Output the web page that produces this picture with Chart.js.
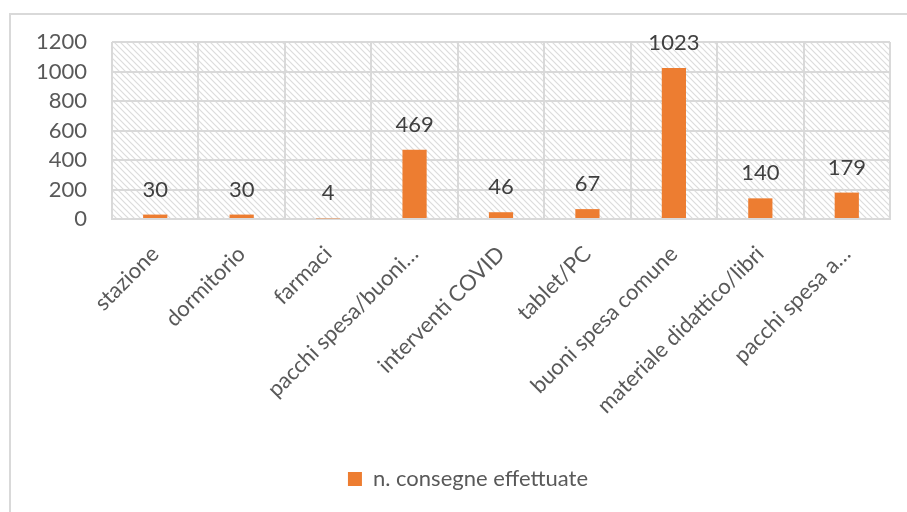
<!DOCTYPE html>
<html>
<head>
<meta charset="utf-8">
<script src="https://cdn.jsdelivr.net/npm/chart.js@4/dist/chart.umd.min.js"></script>
<style>
  html, body { margin: 0; padding: 0; background: #fff; }
  #wrap { position: relative; width: 907px; height: 512px; }
</style>
</head>
<body>
<div id="wrap"><canvas id="c" width="907" height="512"></canvas></div>
<script>
// valori
const categorie = ['stazione', 'dormitorio', 'farmaci', 'pacchi spesa/buoni…', 'interventi COVID', 'tablet/PC', 'buoni spesa comune', 'materiale didattico/libri', 'pacchi spesa a…'];
const consegne = [30, 30, 4, 469, 46, 67, 1023, 140, 179];
const serieLabel = 'n. consegne effettuate';

const ARANCIO = '#ED7D31';
const GRIGIO_TESTO = '#595959';
const FONT = 'Lato, "Open Sans", sans-serif';

// tratteggio diagonale dello sfondo dell'area del grafico
function hatch(ctx) {
  const c = document.createElement('canvas');
  c.width = 6; c.height = 6;
  const g = c.getContext('2d');
  g.fillStyle = '#fff'; g.fillRect(0, 0, 6, 6);
  g.strokeStyle = '#dcdcdc'; g.lineWidth = 1.2;
  g.beginPath();
  g.moveTo(-1, -1); g.lineTo(7, 7);
  g.moveTo(-4, 2); g.lineTo(4, 10);
  g.moveTo(2, -4); g.lineTo(10, 4);
  g.stroke();
  return ctx.createPattern(c, 'repeat');
}

const sfondo = {
  id: 'sfondo',
  beforeDraw(chart) {
    const { ctx, chartArea: a } = chart;
    // la legenda in Excel è un po' più a destra del centro
    if (chart.legend) { chart.legend.left += 18; chart.legend.right += 18; }
    ctx.save();
    // cornice
    ctx.strokeStyle = '#d9d9d9'; ctx.lineWidth = 2;
    ctx.beginPath();
    ctx.moveTo(10, 512); ctx.lineTo(10, 14); ctx.lineTo(907, 14);
    ctx.stroke();
    ctx.fillStyle = hatch(ctx);
    ctx.fillRect(a.left, a.top, a.right - a.left, a.bottom - a.top);
    ctx.restore();
  }
};

const etichette = {
  id: 'etichette',
  afterDatasetsDraw(chart) {
    const { ctx } = chart;
    const meta = chart.getDatasetMeta(0);
    ctx.save();
    ctx.font = '22px ' + FONT;
    ctx.fillStyle = '#404040';
    ctx.textAlign = 'center';
    ctx.textBaseline = 'alphabetic';
    meta.data.forEach((bar, i) => {
      ctx.fillText(String(consegne[i]), bar.x, bar.y - 18);
    });
    ctx.restore();
  }
};

new Chart(document.getElementById('c'), {
  type: 'bar',
  data: {
    labels: categorie,
    datasets: [{ label: serieLabel, data: consegne, backgroundColor: ARANCIO, barPercentage: 0.28, categoryPercentage: 1 }]
  },
  options: {
    responsive: false, animation: false,
    layout: { padding: { top: 42, right: 17, left: 10, bottom: 12 } },
    plugins: {
      legend: {
        position: 'bottom',
        labels: { color: GRIGIO_TESTO, font: { family: FONT, size: 22 }, boxWidth: 14, boxHeight: 14, padding: 8 }
      },
      tooltip: { enabled: false }
    },
    scales: {
      x: {
        grid: { color: '#d9d9d9', lineWidth: 2, offset: true, tickLength: 0 },
        border: { color: '#d9d9d9', width: 2 },
        ticks: { color: GRIGIO_TESTO, font: { family: FONT, size: 22 }, maxRotation: 45, minRotation: 45, padding: 22, autoSkip: false },
        afterFit(s) { s.height = 241; }
      },
      y: {
        min: 0, max: 1200,
        grid: { color: '#d9d9d9', lineWidth: 2, tickLength: 0 },
        border: { display: false },
        ticks: { stepSize: 200, color: GRIGIO_TESTO, font: { family: FONT, size: 22 }, padding: 25, callback: v => String(v) },
        afterFit(s) { s.width = 102; }
      }
    }
  },
  plugins: [sfondo, etichette]
});
</script>
</body>
</html>
